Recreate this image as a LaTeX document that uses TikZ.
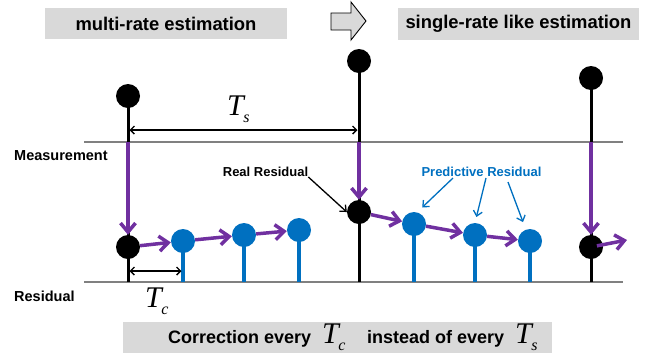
\documentclass[tikz,border=0pt]{standalone}
\usepackage{fontspec}
\setmainfont{Liberation Sans}
\newfontfamily\tms{Liberation Serif}
\usetikzlibrary{arrows.meta,backgrounds}
\definecolor{purp}{HTML}{7030A0}
\definecolor{bl}{HTML}{0070C0}
\definecolor{boxg}{HTML}{D9D9D9}
\definecolor{lineg}{HTML}{808080}
\newcommand\Tsym[1]{T\kern-0.5pt\raisebox{-7pt}{\fontsize{16}{16}\selectfont #1}}
\begin{document}
\begin{tikzpicture}[x=1pt,y=-1pt,
 ballk/.style={circle,fill=black,inner sep=0pt,minimum size=24pt},
 ballb/.style={circle,fill=bl,inner sep=0pt,minimum size=24pt},
 stemk/.style={line width=3pt,black},
 stemb/.style={line width=3.2pt,bl},
 pflow/.style={line width=3.5pt,purp,-{Straight Barb[length=9pt,width=15pt]}},
 dimarrow/.style={line width=1.4pt,{Straight Barb[length=4pt,width=8pt]}-{Straight Barb[length=4pt,width=8pt]}},
 note/.style={line width=1.3pt,-{Straight Barb[length=5pt,width=9pt]}},
 axisline/.style={line width=1.2pt,lineg},
 titlebox/.style={fill=boxg,inner sep=0pt,font=\bfseries\fontsize{18.4}{20}\selectfont},
 lab/.style={font=\bfseries\fontsize{13}{15}\selectfont,inner sep=0pt},
 axlab/.style={font=\bfseries\fontsize{14.5}{16}\selectfont,inner sep=0pt,anchor=west},
 tsym/.style={font=\tms\itshape\fontsize{30}{30}\selectfont,inner sep=0pt,anchor=base west},
 bottxt/.style={font=\bfseries\fontsize{18}{20}\selectfont,inner sep=0pt,anchor=base west},
 ]
\useasboundingbox (0,0) rectangle (656,360);

% title boxes and block arrow
\node[titlebox,minimum width=242pt,minimum height=31pt] (tb1) at (166,23.5) {multi-rate estimation};
\node[titlebox,minimum width=241pt,minimum height=32pt] (tb2) at (518.5,24) {single-rate like estimation};
\draw[fill=boxg,line width=0.9pt] (331,13) -- (351,13) -- (351,2) -- (366,21) -- (351,40) -- (351,30) -- (331,30) -- cycle;

% axis lines
\coordinate (mL) at (84,142); \coordinate (mR) at (623,142);
\coordinate (rL) at (84,282); \coordinate (rR) at (623,282);
\node[axlab] (meas) at (14,156) {Measurement};
\node[axlab] (resl) at (14,296) {Residual};

% balls
\node[ballk] (m1) at (128,96) {};
\node[ballk] (m2) at (359,61) {};
\node[ballk] (m3) at (591,78) {};
\node[ballk] (r1) at (128,247) {};
\node[ballk] (r2) at (359,212) {};
\node[ballk] (r3) at (591,247) {};
\node[ballb] (b1) at (183,241) {};
\node[ballb] (b2) at (244,235) {};
\node[ballb] (b3) at (299,230) {};
\node[ballb] (b4) at (414,224) {};
\node[ballb] (b5) at (475,235) {};
\node[ballb] (b6) at (530,241) {};

% ground points
\coordinate (g1) at (128,282); \coordinate (g2) at (359,282); \coordinate (g3) at (591,282);
\coordinate (h1) at (183,282); \coordinate (h2) at (244,282); \coordinate (h3) at (299,282);
\coordinate (h4) at (414,282); \coordinate (h5) at (475,282); \coordinate (h6) at (530,282);

\begin{scope}[on background layer]
\draw[axisline] (mL) -- (mR);
\draw[axisline] (rL) -- (rR);
\draw[stemk] (m1.center) -- (g1);
\draw[stemk] (m2.center) -- (g2);
\draw[stemk] (m3.center) -- (g3);
\foreach \i in {1,...,6} {\draw[stemb] (b\i.center) -- (h\i);}
\end{scope}

% purple flows
\coordinate (ml1) at (128,142); \coordinate (ml2) at (359,142); \coordinate (ml3) at (591,142);
\draw[pflow] (ml1) -- (r1);
\draw[pflow] (ml2) -- (r2);
\draw[pflow] (ml3) -- (r3);
\draw[pflow] (r1) -- (b1);
\draw[pflow] (b1) -- (b2);
\draw[pflow] (b2) -- (b3);
\draw[pflow] (r2) -- (b4);
\draw[pflow] (b4) -- (b5);
\draw[pflow] (b5) -- (b6);
\coordinate (e3) at (627,240);
\draw[pflow,shorten <=6pt] (r3.center) -- (e3);

% dimensions
\coordinate (ts1) at (129.5,130); \coordinate (ts2) at (357.5,130);
\draw[dimarrow] (ts1) -- (ts2);
\node[tsym] (tslab) at (227,115) {\Tsym{s}};
\coordinate (tc1) at (129.5,271); \coordinate (tc2) at (181.5,271);
\draw[dimarrow] (tc1) -- (tc2);
\node[tsym] (tclab) at (145,307) {\Tsym{c}};

% annotations
\node[lab] (rr) at (265.5,172) {Real Residual};
\draw[note] (rr.south east) -- (r2.west);
\node[lab,text=bl] (pr) at (481.5,172) {Predictive Residual};
\coordinate (p1) at (453,178); \coordinate (p2) at (486,178); \coordinate (p3) at (508,182);
\draw[note,bl,shorten >=7pt] (p1) -- (b4.75);
\draw[note,bl,shorten >=6pt] (p2) -- (b5.north);
\draw[note,bl,shorten >=8pt] (p3) -- (b6.110);

% bottom box
\node[fill=boxg,minimum width=429pt,minimum height=31pt,inner sep=0pt] (bot) at (337.5,337.5) {};
\node[bottxt] (bt1) at (168,343) {Correction every};
\node[tsym] (bt2) at (322,343) {\Tsym{c}};
\node[bottxt] (bt3) at (367,343) {instead of every};
\node[tsym] (bt4) at (515,343) {\Tsym{s}};
\end{tikzpicture}
\end{document}
